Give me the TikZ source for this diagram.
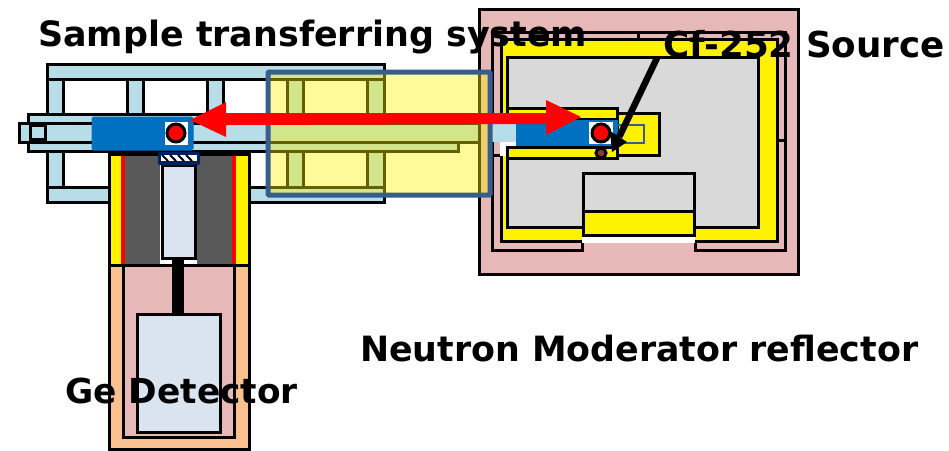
\documentclass[tikz,border=0pt]{standalone}
\usepackage{fontspec}
\usetikzlibrary{calc}
\setmainfont{DejaVu Sans}
\definecolor{frameblue}{HTML}{B7DDE8}
\definecolor{mainblue}{HTML}{0070C0}
\definecolor{navy}{HTML}{002060}
\definecolor{steel}{HTML}{DAE3F0}
\definecolor{rose}{HTML}{E6B8B7}
\definecolor{peach}{HTML}{FBC08F}
\definecolor{lead}{HTML}{595959}
\definecolor{lgray}{HTML}{D9D9D9}
\definecolor{boxblue}{HTML}{385D8A}
\definecolor{brownred}{HTML}{953735}
\tikzset{
  x=1pt,y=-1pt,
  part/.style={draw=black,line width=3pt,line join=miter},
  rail/.style={part,fill=frameblue},
  ylw/.style={part,fill=yellow},
  blok/.style={fill=mainblue,draw=mainblue,line width=1pt,rounded corners=1.5pt},
  source/.style={circle,draw=black,line width=3pt,fill=red,minimum size=18pt,inner sep=0pt},
  lab/.style={text=black,anchor=base west,inner sep=0pt},
}
\newcommand{\labfont}[1]{\bfseries\fontsize{#1}{#1}\selectfont}
\begin{document}
\begin{tikzpicture}
\useasboundingbox (0,0) rectangle (949,450);
% ---- frame of the transfer system
\draw[rail] (47,64) rectangle (384,79);
\draw[rail] (47,187) rectangle (384,202);
\foreach \xa/\xb in {47/63,127/143,207/223,287/303,367/384}{
  \draw[rail] (\xa,79) rectangle (\xb,114);
  \draw[rail] (\xa,151) rectangle (\xb,187);
}
\draw[rail] (28,114) rectangle (458,151);
\draw[rail] (19,123) -- (490,123) -- (517,123) -- (517,142) -- (19,142) -- cycle;
\draw[part] (30,125) rectangle (45,139);
% ---- moderator
\draw[part,fill=rose] (479,9) rectangle (798,274);
\draw[part] (582,240) -- (582,250) -- (492,250) -- (492,32) -- (785,32) -- (785,250) -- (695,250) -- (695,240);
\draw[part] (638,32) -- (638,39);
\draw[part] (778,140) -- (785,140);
\draw[part] (492,155) -- (500,155);
\draw[ylw] (501,39) rectangle (777,241);
\draw[part,fill=lgray] (507,57) rectangle (758,227);
\fill[white] (582,236) rectangle (695,242.5);
\draw[part,fill=lgray] (583,173) rectangle (694,211);
\draw[ylw] (583,211) rectangle (694,235);
\fill[white] (500,142) rectangle (516,156);
\draw[ylw] (617,113) rectangle (659,155);
\draw[boxblue,line width=2pt] (617,125) rectangle (644,143);
\draw[ylw] (507,108) rectangle (617,119);
\draw[ylw] (507,147) rectangle (617,158);
\fill[frameblue] (492,120.5) rectangle (516,142);
\fill[mainblue] (516,120) rectangle (618,146);
\fill[white] (589,122) rectangle (613,144);
\node[source] (srcB) at (601,133) {};
\node[circle,draw=black,line width=3pt,fill=brownred,minimum size=10pt,inner sep=0pt] (pellet) at (601,153) {};
% ---- carriage on the left
\draw[blok] (92,117) rectangle (193,150);
\fill[white] (165,122) rectangle (188,145);
\node[source] (srcA) at (176,133) {};
% ---- shield
\draw[part,fill=yellow] (109,154) rectangle (249,265);
\fill[lead] (125,155.5) rectangle (233,263.5);
\fill[red] (121,155.5) rectangle (125,263.5);
\fill[red] (232,155.5) rectangle (236,263.5);
\fill[white] (160,160) rectangle (197,263.5);
\draw[part,fill=steel] (162,165) rectangle (195,258);
\fill[navy,rounded corners=1.5pt] (158,152) rectangle (200,165);
\fill[white] (161,155) rectangle (197,161);
\foreach \h in {162,170,178,186}{
  \draw[black,line width=2pt] (\h,155) -- (\h+6,161);
}
% ---- detector
\draw[part,fill=peach] (109,265) rectangle (249,449);
\draw[part,fill=rose] (123,265) -- (123,437) -- (234,437) -- (234,265);
\draw[part] (109,265) -- (249,265);
\fill[black] (172,258) rectangle (184,314);
\draw[part,fill=steel] (137,314) rectangle (220,432);
% ---- translucent travel range box
\draw[boxblue,line width=5pt,rounded corners=1pt,fill=yellow,fill opacity=.4] (268,72) rectangle (490,195);
% ---- travel arrow
\fill[red] (190,120) -- (226,102) -- (226,113) -- (546,113) -- (546,100) -- (581,117) -- (546,135) -- (546,124) -- (226,125) -- (226,137) -- cycle;
% ---- labels
\node[lab,font=\labfont{34.9}] (title) at (38,46.5) {Sample transferring system};
\node[lab,font=\labfont{35.7}] (cf) at (663,57.5) {Cf-252 Source};
\node[lab,font=\labfont{34.8}] (mod) at (360,361) {Neutron Moderator reflector};
\node[lab,font=\labfont{34.4}] (ge) at (65,403) {Ge Detector};
% ---- source pointer
\coordinate (tipstart) at (657,58);
\coordinate (tipend) at (612,152);
\draw[black,line width=6.5pt] (tipstart) -- ($(tipstart)!0.84!(tipend)$);
\fill[black] (tipend) -- (610,131) -- (627,142) -- cycle;
\end{tikzpicture}
\end{document}
